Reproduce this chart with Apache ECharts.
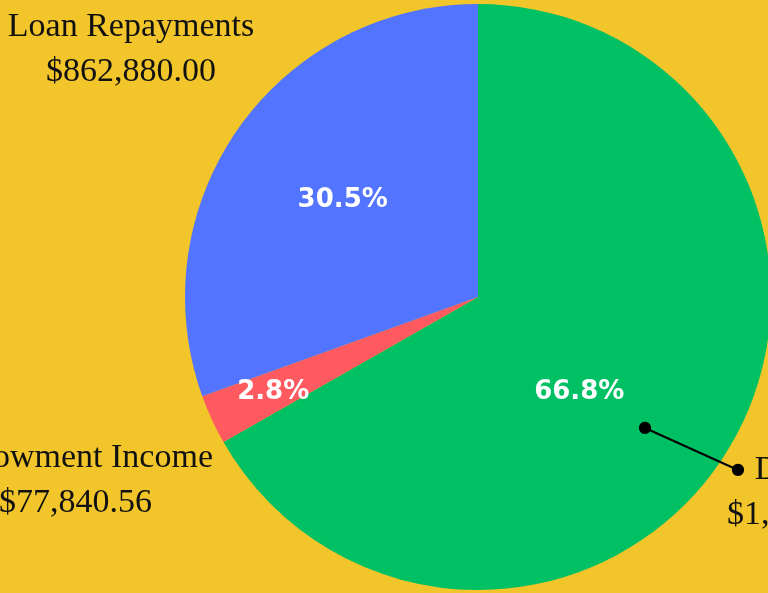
<!DOCTYPE html>
<html><head><meta charset="utf-8">
<script src="https://cdn.jsdelivr.net/npm/echarts@6/dist/echarts.min.js"></script>
<style>html,body{margin:0;padding:0;background:#F2C52A;} #c{width:768px;height:593px;}</style>
</head><body><div id="c"></div>
<script>
// ---- data ----
const categories = ['Donations', 'Endowment Income', 'Loan Repayments'];
const values = [1889000, 77840.56, 862880];
const colors = ['#00C064', '#FF5A5F', '#5274FF'];

// ---- layout constants ----
const CX = 478, CY = 297, R = 293;
const LINE_START = [645, 428], LINE_END = [738, 470];
const total = values.reduce((a, b) => a + b, 0);
const pct = v => (v / total * 100).toFixed(1) + '%';
const money = v => '$' + v.toLocaleString('en-US', {minimumFractionDigits: 2, maximumFractionDigits: 2});

// offsets of the percent labels from their default inside position
const pctOffsets = [[-28, 20], [-69, 33], [-13, -11]];

const chart = echarts.init(document.getElementById('c'));

const base = {
  type: 'pie', center: [CX, CY], radius: R, startAngle: 90, clockwise: true,
  avoidLabelOverlap: false, animation: false
};
const innerR = Math.hypot(LINE_START[0] - CX, LINE_START[1] - CY);

chart.setOption({
  backgroundColor: '#F2C52A',
  series: [
    Object.assign({}, base, {
      name: 'pct', z: 2,
      data: categories.map((n, i) => ({name: n, value: values[i], itemStyle: {color: colors[i]}})),
      label: {
        show: true, position: 'inside',
        formatter: p => pct(p.value),
        color: '#fff', fontFamily: 'DejaVu Sans', fontWeight: 'bold', fontSize: 26
      },
      labelLine: {show: false},
      labelLayout: p => ({dx: pctOffsets[p.dataIndex][0], dy: pctOffsets[p.dataIndex][1]}),
      emphasis: {disabled: true}
    }),
    Object.assign({}, base, {
      name: 'names', silent: true, radius: innerR, z: 5,
      itemStyle: {color: 'transparent'},
      data: categories.map((n, i) => ({
        name: n, value: values[i],
        labelLine: {show: i === 0}
      })),
      label: {
        show: true, position: 'outside',
        formatter: p => p.name + '\n' + money(p.value),
        color: '#111', fontFamily: 'Liberation Serif', fontSize: 34, lineHeight: 45, align: 'center'
      },
      labelLine: {show: true, maxSurfaceAngle: 180, lineStyle: {color: '#000', width: 2}},
      labelLayout: p => {
        const w = p.labelRect.width, i = p.dataIndex;
        if (i === 2) return {x: 131, y: 50, align: 'center', verticalAlign: 'middle'};
        if (i === 1) return {x: 213 - w / 2, y: 481, align: 'center', verticalAlign: 'middle'};
        return {x: 727 + w / 2, y: 493, align: 'center', verticalAlign: 'middle',
          labelLinePoints: [LINE_START, [(LINE_START[0] + LINE_END[0]) / 2, (LINE_START[1] + LINE_END[1]) / 2], LINE_END]};
      },
      emphasis: {disabled: true}
    }),
    Object.assign({}, base, {
      name: 'dotStart', silent: true, z: 6,
      itemStyle: {color: 'transparent'},
      data: categories.map((n, i) => ({name: n, value: values[i], label: {show: i === 0}})),
      label: {position: 'inside', formatter: '●', color: '#000', fontSize: 16, fontFamily: 'DejaVu Sans'},
      labelLine: {show: false},
      labelLayout: () => ({x: LINE_START[0], y: LINE_START[1], align: 'center', verticalAlign: 'middle'}),
      emphasis: {disabled: true}
    }),
    Object.assign({}, base, {
      name: 'dotEnd', silent: true, z: 6,
      itemStyle: {color: 'transparent'},
      data: categories.map((n, i) => ({name: n, value: values[i], label: {show: i === 0}})),
      label: {position: 'inside', formatter: '●', color: '#000', fontSize: 16, fontFamily: 'DejaVu Sans'},
      labelLine: {show: false},
      labelLayout: () => ({x: LINE_END[0], y: LINE_END[1], align: 'center', verticalAlign: 'middle'}),
      emphasis: {disabled: true}
    })
  ]
});
</script></body></html>
